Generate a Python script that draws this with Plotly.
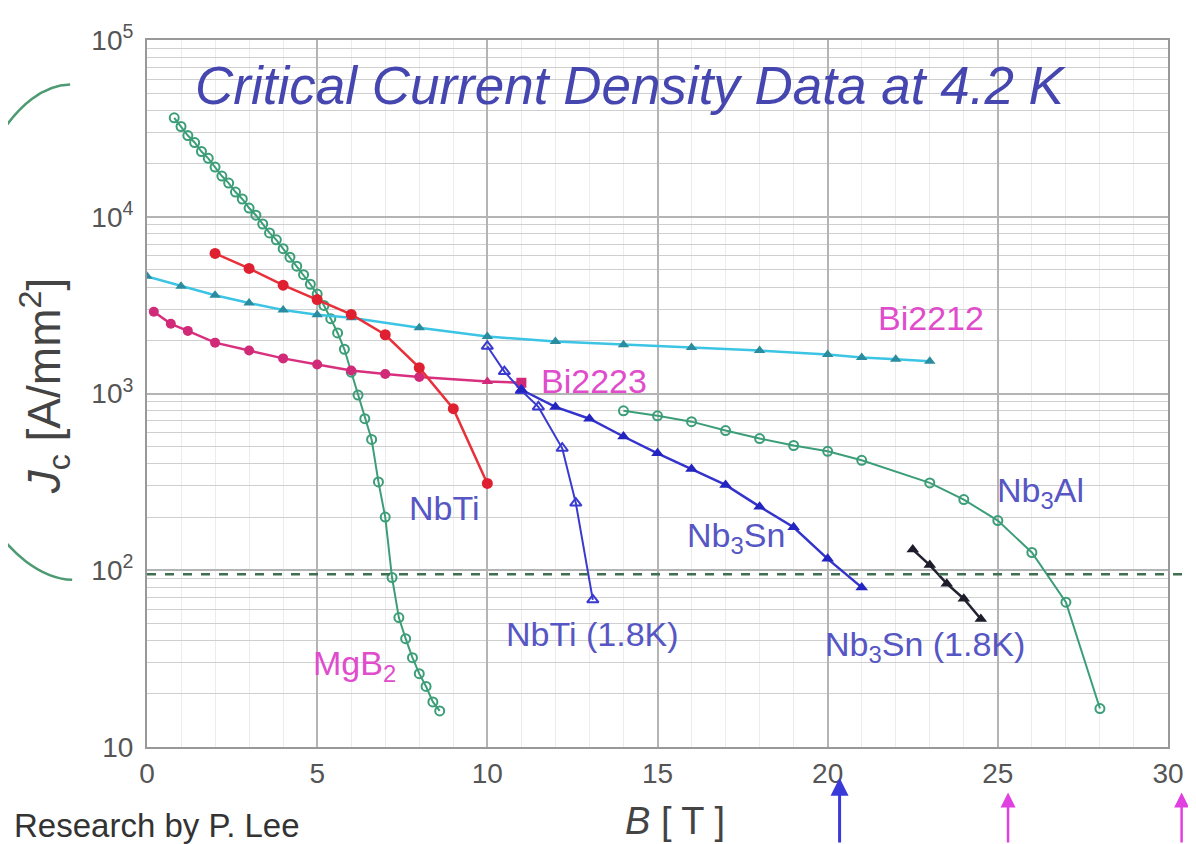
import plotly.graph_objects as go

# ---------------- data ----------------
mgb2_B = [0.8, 1.0, 1.2, 1.4, 1.6, 1.8, 2.0, 2.2, 2.4, 2.6, 2.8, 3.0, 3.2, 3.4, 3.6, 3.8,
          4.0, 4.2, 4.4, 4.6, 4.8, 5.0, 5.2, 5.4, 5.6, 5.8, 6.0, 6.2, 6.4, 6.6, 6.8, 7.0,
          7.2, 7.4, 7.6, 7.8, 8.0, 8.2, 8.4, 8.6]
mgb2_Jc = [36300, 32400, 28800, 26300, 23400, 21400, 19100, 17000, 15500, 13800, 12600,
           11200, 10200, 9100, 8100, 7400, 6600, 5900, 5250, 4700, 4150, 3650, 3150, 2650,
           2200, 1780, 1320, 980, 720, 550, 316, 200, 91, 54, 41, 32, 26, 22, 18, 16]

nbti_B = [2, 3, 4, 5, 6, 7, 8, 9, 10]
nbti_Jc = [6200, 5100, 4100, 3400, 2800, 2150, 1400, 820, 310]

bi2212_B = [0, 1, 2, 3, 4, 5, 6, 8, 10, 12, 14, 16, 18, 20, 21, 22, 23]
bi2212_Jc = [4600, 4050, 3600, 3250, 2970, 2790, 2680, 2355, 2100, 1970, 1890, 1820,
             1750, 1660, 1600, 1560, 1520]

bi2223_B = [0.2, 0.7, 1.2, 2, 3, 4, 5, 6, 7, 8, 10, 11]
bi2223_Jc = [2900, 2480, 2260, 1940, 1750, 1580, 1460, 1350, 1290, 1240, 1170, 1150]

nbti18_B = [10.0, 10.5, 11.0, 11.5, 12.2, 12.6, 13.1]
nbti18_Jc = [1850, 1330, 1040, 840, 490, 240, 68]

nb3sn_B = [11, 12, 13, 14, 15, 16, 17, 18, 19, 20, 21]
nb3sn_Jc = [1050, 840, 720, 571, 459, 374, 304, 229, 175, 116, 80]

nb3sn18_B = [22.5, 23, 23.5, 24, 24.5]
nb3sn18_Jc = [131, 107, 84, 69, 53]

nb3al_B = [14, 15, 16, 17, 18, 19, 20, 21, 23, 24, 25, 26, 27, 28]
nb3al_Jc = [798, 748, 693, 617, 556, 508, 471, 419, 312, 251, 191, 126, 66, 16.5]

ref_level = 95
arrow_B = [20.35, 25.3, 30.4]

y_tickvals = [10, 100, 1000, 10000, 100000]
y_ticktext = ["10", "10<sup>2</sup>", "10<sup>3</sup>", "10<sup>4</sup>", "10<sup>5</sup>"]
x_tickvals = [0, 5, 10, 15, 20, 25, 30]
x_range = [0, 30]

# ---------------- layout geometry ----------------
# the page body adds an 8 px offset; the figure is shrunk so the plot lands
# where it is in the reference (coordinates below are reference pixels)
OFF = 8
W, H = 1196 - OFF, 844 - OFF
PX0, PX1, PY0, PY1 = 147, 1170, 32, 747          # plot area in reference pixels
L, R = PX0 - OFF, (1196 - OFF) - (PX1 - OFF)
T, B = PY0 - OFF, (844 - OFF) - (PY1 - OFF)
PW, PH = PX1 - PX0, PY1 - PY0


def px(x):
    return (x - PX0) / PW


def py(y):
    return (PY1 - y) / PH


def bx_paper(b):
    return (b - x_range[0]) / (x_range[1] - x_range[0])


FONT = "Liberation Sans, Arial, sans-serif"
GREEN = "#3c9e78"
LBL_BLUE = "#5656c4"
LBL_MAG = "#e04ccc"

fig = go.Figure()

fig.add_trace(go.Scatter(x=mgb2_B, y=mgb2_Jc, mode="lines+markers", name="MgB2",
                         line=dict(color=GREEN, width=2),
                         marker=dict(symbol="circle-open", size=9, color=GREEN,
                                     line=dict(width=2))))
fig.add_trace(go.Scatter(x=bi2212_B, y=bi2212_Jc, mode="lines+markers", name="Bi2212",
                         line=dict(color="#3cc4e4", width=2.5),
                         marker=dict(symbol="triangle-up", size=10, color="#2a8c9e")))
fig.add_trace(go.Scatter(x=bi2223_B, y=bi2223_Jc, mode="lines+markers", name="Bi2223",
                         line=dict(color="#d8307e", width=2.5),
                         marker=dict(symbol=["circle"] * 10 + ["triangle-up", "square"],
                                     size=10, color="#d02a78")))
fig.add_trace(go.Scatter(x=nbti_B, y=nbti_Jc, mode="lines+markers", name="NbTi",
                         line=dict(color="#e8303a", width=2.5),
                         marker=dict(symbol="circle", size=11, color="#de2030")))
fig.add_trace(go.Scatter(x=nbti18_B, y=nbti18_Jc, mode="lines+markers", name="NbTi (1.8K)",
                         line=dict(color="#3a3ad0", width=2),
                         marker=dict(symbol="triangle-up-open", size=10, color="#3a3ad0",
                                     line=dict(width=2))))
fig.add_trace(go.Scatter(x=nb3sn_B, y=nb3sn_Jc, mode="lines+markers", name="Nb3Sn",
                         line=dict(color="#3434cc", width=2.5),
                         marker=dict(symbol="triangle-up", size=11, color="#2424c0")))
fig.add_trace(go.Scatter(x=nb3sn18_B, y=nb3sn18_Jc, mode="lines+markers", name="Nb3Sn (1.8K)",
                         line=dict(color="#222233", width=2.5),
                         marker=dict(symbol="triangle-up", size=11, color="#1c1c2a")))
fig.add_trace(go.Scatter(x=nb3al_B, y=nb3al_Jc, mode="lines+markers", name="Nb3Al",
                         line=dict(color=GREEN, width=2),
                         marker=dict(symbol="circle-open", size=9, color=GREEN,
                                     line=dict(width=2))))

# dashed reference line
fig.add_shape(type="line", xref="paper", yref="y", x0=0, x1=1.03,
              y0=ref_level, y1=ref_level,
              line=dict(color="#3f6e50", width=2.5, dash="dash"))

# left bracket
pts = [(70, 77), (20, 78), (-40, 150), (-50, 330), (-60, 480), (10, 575), (72, 578)]
p = [(px(a), py(b)) for a, b in pts]
path = ("M {:.4f},{:.4f} C {:.4f},{:.4f} {:.4f},{:.4f} {:.4f},{:.4f} "
        "C {:.4f},{:.4f} {:.4f},{:.4f} {:.4f},{:.4f}").format(*[v for xy in p for v in xy])
fig.add_shape(type="path", xref="paper", yref="paper", path=path,
              line=dict(color="#4e9a72", width=2.5))

annotations = []


def label(text, x, y, color, size=30, **kw):
    annotations.append(dict(text=text, x=px(x), y=py(y), xref="paper", yref="paper",
                            showarrow=False, font=dict(family=FONT, size=size, color=color),
                            xanchor=kw.get("xanchor", "center"), yanchor="middle",
                            textangle=kw.get("textangle", 0)))


label("<i>Critical Current Density Data at 4.2 K</i>", 632, 78, "#4646b0", size=53)
label("Bi2212", 933, 313, LBL_MAG, size=34)
label("Bi2223", 595, 377, LBL_MAG, size=34)
label("NbTi", 445, 505, LBL_BLUE, size=34)
label("Nb<sub>3</sub>Sn", 737, 535, LBL_BLUE, size=34)
label("NbTi (1.8K)", 593, 633, LBL_BLUE, size=34)
label("Nb<sub>3</sub>Sn (1.8K)", 927, 645, LBL_BLUE, size=34)
label("Nb<sub>3</sub>Al", 1042, 490, LBL_BLUE, size=34)
label("MgB<sub>2</sub>", 355, 665, LBL_MAG, size=34)
label("<i>J</i><sub>c</sub> [A/mm<sup>2</sup>]", 44, 382, "#444444", size=46, textangle=-90)
label("<i>B</i> [ T ]", 676, 822, "#444444", size=38)
label("Research by P. Lee", 12, 826, "#333333", size=33, xanchor="left")

arrow_colors = ["#3a3ad8", "#e040e0", "#e040e0"]
arrow_heads = [778, 793, 793]
arrow_widths = [3, 2.5, 2.5]
for b, c, hy, w in zip(arrow_B, arrow_colors, arrow_heads, arrow_widths):
    annotations.append(dict(x=bx_paper(b), y=py(hy), xref="paper", yref="paper", text="",
                            showarrow=True, ax=0, ay=80, arrowhead=2, arrowsize=1.2,
                            arrowwidth=w, arrowcolor=c))

fig.update_layout(
    width=W, height=H,
    margin=dict(l=L, r=R, t=T, b=B),
    paper_bgcolor="white", plot_bgcolor="white",
    showlegend=False,
    annotations=annotations,
    xaxis=dict(range=x_range, tickvals=x_tickvals, showgrid=True, gridcolor="#b4b4b4",
               gridwidth=1.5, zeroline=False,
               minor=dict(dtick=1, showgrid=True, gridcolor="#ececec", gridwidth=1),
               showline=True, linecolor="#999999", linewidth=2, mirror=True,
               ticks="", tickfont=dict(family=FONT, size=28, color="#555555")),
    yaxis=dict(type="log", range=[1, 5], tickvals=y_tickvals, ticktext=y_ticktext,
               showgrid=True, gridcolor="#b4b4b4", gridwidth=1.5, zeroline=False,
               minor=dict(dtick="D1", showgrid=True, gridcolor="#cfcfcf", gridwidth=1),
               showline=True, linecolor="#999999", linewidth=2, mirror=True,
               ticks="", ticklabelstandoff=6,
               tickfont=dict(family=FONT, size=28, color="#555555")),
)

fig.write_html("out.html")
